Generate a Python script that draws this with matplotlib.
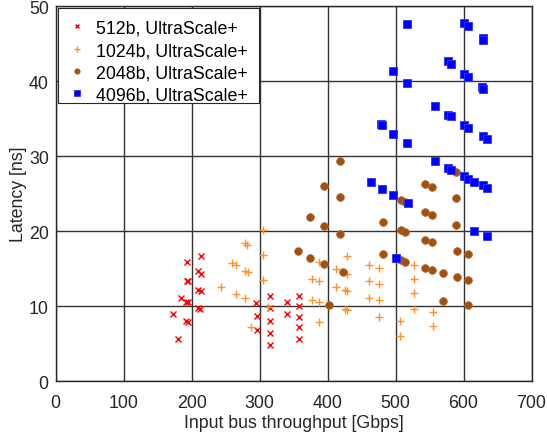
import numpy as np
from matplotlib import pyplot as plt
from matplotlib.patches import Rectangle

plt.rcParams['font.family'] = ['Liberation Sans', 'DejaVu Sans']

# 512b, UltraScale+
x_512 = [193, 214, 210, 214, 192.6, 194.5, 210, 214, 185, 191.6, 194.6, 210, 213,
         172, 191.6, 194.6, 180, 295, 316, 316, 296, 316, 296, 316, 316,
         340, 340, 358, 358, 358, 358, 358]
y_512 = [15.9, 16.7, 14.7, 14.3, 13.3, 13.3, 12.2, 12.0, 11.1, 10.6, 10.6, 9.8, 9.6,
         9.0, 8.0, 7.9, 5.7, 10.4, 11.3, 9.8, 8.7, 8.1, 6.9, 6.5, 4.9,
         10.6, 9.0, 11.4, 10.0, 8.6, 7.2, 5.7]

# 1024b, UltraScale+
x_1024 = [278.4, 281.8, 259.3, 265.2, 278.8, 282.8, 243.5, 265.2, 278.8, 305.3, 305.3,
          305.3, 312, 286.8, 387.7, 411.7, 428, 428.9, 376.4, 387.2, 412.2, 425.9,
          428.9, 376.4, 387.7, 426, 429, 387.7, 461, 476, 461, 476, 461, 476, 476,
          527, 527, 527, 527, 506, 506, 555, 555]
y_1024 = [18.4, 18.2, 15.8, 15.5, 14.7, 14.5, 12.6, 11.6, 11.1, 20.1, 16.8,
          13.5, 9.9, 7.2, 15.9, 15.0, 16.7, 14.3, 13.6, 13.3, 12.5, 12.1,
          12.0, 10.9, 10.6, 9.6, 9.5, 7.9, 15.5, 15.1, 13.4, 12.9, 11.1, 10.8, 8.6,
          15.5, 13.6, 11.7, 9.7, 8.1, 6.0, 9.2, 7.4]

# 2048b, UltraScale+
x_2048 = [418.1, 394.1, 418.1, 374, 394.6, 418.1, 356.3, 374, 394, 423, 402,
          481.8, 481.8, 507.4, 514.1, 507.4, 514.1, 507.4, 514.1,
          543.5, 553.4, 543.5, 553.4, 543.5, 553.4, 543.5, 553.4,
          588.5, 588.5, 589, 589.7, 589.7, 570, 570, 606, 606, 606]
y_2048 = [29.4, 26.0, 24.5, 21.9, 20.7, 19.6, 17.3, 16.4, 15.6, 14.5, 10.2,
          21.2, 17.0, 24.2, 23.9, 20.2, 19.9, 16.2, 15.9,
          26.3, 25.9, 22.6, 22.2, 18.8, 18.5, 15.1, 14.8,
          27.9, 24.4, 20.8, 17.4, 13.9, 14.4, 10.7, 16.9, 13.5, 10.2]

# 4096b, UltraScale+
x_4096 = [516.2, 600.9, 606.3, 628, 628.5, 496.5, 576.9, 580.9, 600.9, 606.3, 516.2,
          627, 628, 558.2, 576.9, 580.9, 600.9, 606.3, 477.9, 479.4, 496.5, 516.2,
          628, 633.8, 558.2, 576.9, 580.9, 600.9, 606.3, 615.1, 628, 633.8,
          463.7, 479.9, 495.6, 517.6, 615.1, 633.8, 500.4]
y_4096 = [47.6, 47.7, 47.3, 45.7, 45.5, 41.3, 42.7, 42.3, 41.0, 40.5, 39.7,
          39.2, 39.0, 36.7, 35.5, 35.3, 34.2, 33.7, 34.3, 34.2, 33.0, 31.8,
          32.7, 32.3, 29.3, 28.4, 28.2, 27.3, 27.0, 26.6, 26.1, 25.8,
          26.5, 25.6, 24.8, 23.8, 20.0, 19.4, 16.4]

fig = plt.figure(figsize=(5.47, 4.35), dpi=100)
ax = fig.add_axes([0.1018, 0.1211, 0.8699, 0.8628])

ax.plot(x_512, y_512, 'x', color='#FF0000', markersize=5, markeredgewidth=1.0,
        label='512b, UltraScale+', zorder=3)
ax.plot(x_1024, y_1024, '+', color='#FF9326', markersize=6, markeredgewidth=1.0,
        label='1024b, UltraScale+', zorder=3)
ax.plot(x_2048, y_2048, 'o', color='#A0500F', markeredgecolor='#B0682E',
        markersize=5.5, markeredgewidth=0.6, label='2048b, UltraScale+', zorder=3)
ax.plot(x_4096, y_4096, 's', color='#0000FF', markeredgecolor='#3030FF',
        markersize=5.5, markeredgewidth=0.6, label='4096b, UltraScale+', zorder=3)

ax.set_xlim(0, 700)
ax.set_ylim(0, 50)
ax.set_xticks(np.arange(0, 701, 100))
ax.set_yticks(np.arange(0, 51, 10))
ax.grid(True, color='#333333', linewidth=1.0, zorder=0)
ax.set_axisbelow(True)
ax.tick_params(axis='both', which='major', labelsize=12.8, direction='in',
               length=0, colors='#262626')
ax.tick_params(axis='x', pad=9)
ax.tick_params(axis='y', pad=5)
for spine in ax.spines.values():
    spine.set_color('#262626')
    spine.set_linewidth(1.0)

ax.set_xlabel('Input bus throughput [Gbps]', size=12.8, color='#262626', labelpad=2)
ax.set_ylabel('Latency [ns]', size=12.8, color='#262626', labelpad=1)

# legend box drawn by hand (wider on the right, like the original)
ax.add_patch(Rectangle((0.005, 0.742), 0.422, 0.2527, transform=ax.transAxes,
                       facecolor='white', edgecolor='#262626', linewidth=0.8,
                       zorder=4))
leg = ax.legend(loc='upper left', fontsize=12.8, markerscale=0.7, handlelength=0.9,
                handletextpad=0.6, borderpad=0.62, labelspacing=0.3,
                borderaxespad=0.15, frameon=False)
leg.set_zorder(5)

plt.savefig('out.png', dpi=100)
